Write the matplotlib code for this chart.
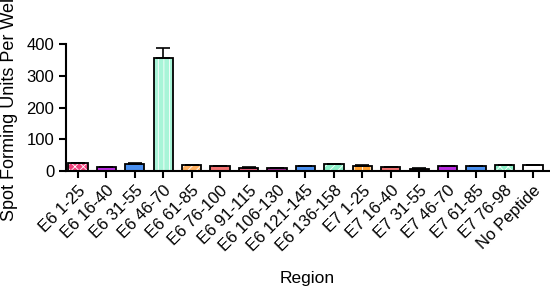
import numpy as np
import matplotlib
matplotlib.use('Agg')
import matplotlib.pyplot as plt

plt.rcParams['font.family'] = ['Liberation Sans', 'DejaVu Sans']
plt.rcParams['hatch.linewidth'] = 0.6

regions = ['E6 1-25', 'E6 16-40', 'E6 31-55', 'E6 46-70', 'E6 61-85', 'E6 76-100',
           'E6 91-115', 'E6 106-130', 'E6 121-145', 'E6 136-158', 'E7 1-25',
           'E7 16-40', 'E7 31-55', 'E7 46-70', 'E7 61-85', 'E7 76-98', 'No Peptide']
sfu = [24, 13, 21, 355, 19, 15, 11, 9, 16, 21, 16, 13, 8, 16, 15, 19, 18]
err = [1, 1, 3, 32, 1, 1, 1, 1, 1, 1, 2, 1, 1, 1, 1, 1, 1]
colors = ['#f0407a', '#b82ce0', '#4a90f0', '#a8f5d8', '#ffb060', '#f07070',
          '#e8607e', '#9a2a8a', '#4a90f0', '#8cf0c8', '#ffa030', '#f07070',
          '#8a2a4a', '#b82ce0', '#4a90f0', '#8cf0c8', '#ffffff']
hatches = ['xxxx', '--', '--', '|||', '////', '--', '--', '--', '--', '////',
           '++', '--', '--', '--', '--', 'xxxx', '']

fig = plt.figure(figsize=(5.5, 2.93), dpi=100)
ax = fig.add_axes([0.12, 0.416, 0.878, 0.434])

x = np.arange(len(regions))
# fill with hatch in light lines, then black outline on top
for i in range(len(regions)):
    ax.bar(x[i], sfu[i], width=0.68, color=colors[i], hatch=hatches[i],
           edgecolor='white', linewidth=0, zorder=2)
ax.bar(x, sfu, width=0.68, fill=False, edgecolor='black', linewidth=1.3, zorder=3)
ax.errorbar(x, sfu, yerr=[np.zeros(len(err)), err], fmt='none', ecolor='black',
            elinewidth=1.2, capsize=5, capthick=1.2, zorder=4)

ax.set_xlim(-0.42, 16.56)
ax.set_ylim(0, 400)
ax.set_yticks([0, 100, 200, 300, 400])
ax.set_xticks(x)
ax.set_xticklabels(regions, rotation=45, ha='right', rotation_mode='anchor')
ax.tick_params(axis='both', labelsize=12, width=1.5, length=5, direction='out')
ax.spines['top'].set_visible(False)
ax.spines['right'].set_visible(False)
ax.spines['left'].set_linewidth(1.5)
ax.spines['bottom'].set_linewidth(1.5)

ax.set_ylabel('Spot Forming Units Per Well', fontsize=13, labelpad=6)
ax.set_xlabel('Region', fontsize=12.5, labelpad=12)

fig.savefig('out.png', dpi=100)
